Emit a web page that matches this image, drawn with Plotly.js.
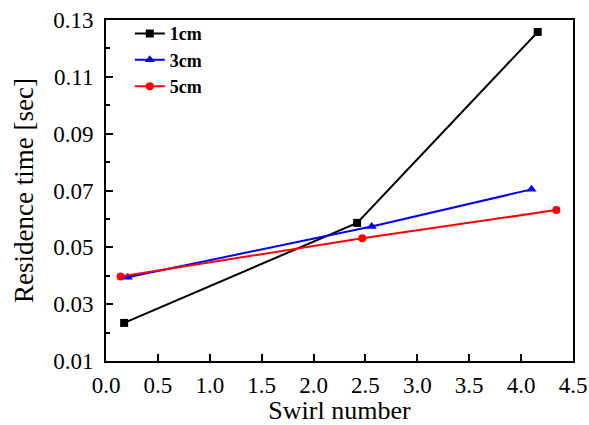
<!DOCTYPE html>
<html><head><meta charset="utf-8">
<script src="https://cdn.plot.ly/plotly-3.0.1.min.js"></script>
<style>body{margin:0;padding:0;background:#fff}#chart{width:589px;height:425px}</style>
</head><body><div id="chart"></div>
<script>
const seriesNames = ["1cm", "3cm", "5cm"];
const swirl1 = [0.175, 2.42, 4.16];
const time1 = [0.0234, 0.0586, 0.1258];
const swirl3 = [0.21, 2.56, 4.10];
const time3 = [0.0395, 0.0573, 0.0704];
const swirl5 = [0.14, 2.47, 4.34];
const time5 = [0.0397, 0.0532, 0.0631];
const xTicks = [0, 0.5, 1, 1.5, 2, 2.5, 3, 3.5, 4, 4.5];
const xTickText = ["0.0","0.5","1.0","1.5","2.0","2.5","3.0","3.5","4.0","4.5"];
const yTicks = [0.01, 0.03, 0.05, 0.07, 0.09, 0.11, 0.13];
const yTickText = ["0.01","0.03","0.05","0.07","0.09","0.11","0.13"];
const yMinorTicks = [0.02, 0.04, 0.06, 0.08, 0.10, 0.12];

const font = "Liberation Serif";
const traces = [
  {x: swirl1, y: time1, name: seriesNames[0], mode: "lines+markers", line:{color:"#000000", width:2}, marker:{symbol:"square", size:8, color:"#000000"}},
  {x: swirl3, y: time3, name: seriesNames[1], mode: "lines+markers", line:{color:"#0000ff", width:2}, marker:{symbol:"triangle-up", size:9, color:"#0000ff"}},
  {x: swirl5, y: time5, name: seriesNames[2], mode: "lines+markers", line:{color:"#ff0000", width:2}, marker:{symbol:"circle", size:8, color:"#ff0000"}}
];
const layout = {
  width: 589, height: 425,
  margin: {l:106, r:16, t:20, b:64},
  paper_bgcolor: "#fff", plot_bgcolor: "#fff",
  font: {family: font, size: 23, color: "#000"},
  showlegend: true,
  legend: {x: 0.051, y: 1.014, xanchor: "left", yanchor: "top", bgcolor: "rgba(0,0,0,0)", font: {family: font, size: 18, color:"#000", weight: "bold"}, tracegroupgap: 0},
  xaxis: {
    range: [0, 4.5], tickmode: "array", tickvals: xTicks, ticktext: xTickText,
    ticks: "inside", ticklen: 7, tickwidth: 2, tickcolor: "#000", ticklabelstandoff: 2,
    showline: true, linewidth: 2, linecolor: "#000", mirror: true,
    showgrid: false, zeroline: false,
    tickfont: {family: font, size: 23, color: "#000"},
    title: {text: "Swirl number", font: {family: font, size: 26, color: "#000"}, standoff: 6}
  },
  yaxis: {
    range: [0.01, 0.13], tickmode: "array", tickvals: yTicks, ticktext: yTickText,
    ticks: "inside", ticklen: 7, tickwidth: 2, tickcolor: "#000", ticklabelstandoff: 6,
    minor: {tickmode: "array", tickvals: yMinorTicks, ticks: "inside", ticklen: 4, tickwidth: 2, tickcolor: "#000", showgrid: false},
    showline: true, linewidth: 2, linecolor: "#000", mirror: true,
    showgrid: false, zeroline: false,
    tickfont: {family: font, size: 23, color: "#000"},
    title: {text: "Residence time [sec]", font: {family: font, size: 27, color: "#000"}, standoff: 12}
  }
};
Plotly.newPlot("chart", traces, layout, {displayModeBar: false, staticPlot: true});
</script></body></html>
